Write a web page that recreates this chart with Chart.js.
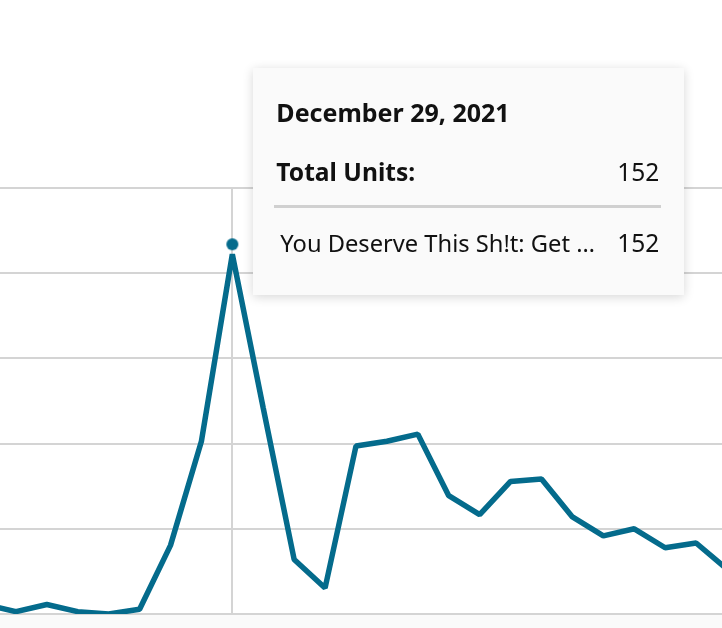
<!DOCTYPE html>
<html>
<head>
<meta charset="utf-8">
<script src="https://cdn.jsdelivr.net/npm/chart.js@4.4.1/dist/chart.umd.min.js"></script>
<style>
    html, body {
        margin: 0;
        padding: 0;
        width: 722px;
        height: 628px;
        overflow: hidden;
        background: linear-gradient(to bottom, #fff 0, #fff 615px, #fafafa 615px);
        font-family: "Noto Sans", sans-serif;
    }
    #wrap { position: absolute; left: -15px; top: 0; width: 742px; height: 628px; }
    #tip {
        position: absolute;
        top: 68px;
        width: 431px;
        height: 227px;
        background: #fafafa;
        box-shadow: 0 2px 10px rgba(0, 0, 0, 0.16);
        color: #111;
        font-size: 24px;
        line-height: 24px;
        display: none;
    }
    #tip .t { position: absolute; left: 23px; top: 32px; font-weight: bold; font-size: 25px; }
    #tip .l { position: absolute; white-space: nowrap; }
    #tip .r { position: absolute; right: 25px; font-size: 24.5px; }
    #tip .sep { position: absolute; left: 21px; right: 23px; top: 137px; height: 3px; background: #d0d0d0; }
</style>
</head>
<body>
<div id="wrap"><canvas id="lineChart"></canvas></div>
<div id="tip"></div>
<script>
var labels = [
    'December 21, 2021', 'December 22, 2021', 'December 23, 2021', 'December 24, 2021',
    'December 25, 2021', 'December 26, 2021', 'December 27, 2021', 'December 28, 2021',
    'December 29, 2021', 'December 30, 2021', 'December 31, 2021', 'January 1, 2022',
    'January 2, 2022', 'January 3, 2022', 'January 4, 2022', 'January 5, 2022',
    'January 6, 2022', 'January 7, 2022', 'January 8, 2022', 'January 9, 2022',
    'January 10, 2022', 'January 11, 2022', 'January 12, 2022', 'January 13, 2022',
    'January 14, 2022'
];
var bookTitle = 'You Deserve This Sh!t: Get …';
var units = [4, 1, 4, 1, 0, 2, 29, 73, 152, 87, 23, 11, 71, 73, 76, 50, 42, 56, 57, 41, 33, 36, 28, 30, 19];
var yTicks = [0, 36, 72, 108, 144, 180];
var hoverIndex = 8;

var teal = '#046b8c';
var gridColor = '#d4d4d4';

// hover marker sits a little above the line vertex, like the original
var marker = document.createElement('canvas');
marker.width = 14;
marker.height = 34;
var mctx = marker.getContext('2d');
mctx.fillStyle = teal;
mctx.beginPath();
mctx.arc(7, 7, 6, 0, Math.PI * 2);
mctx.fill();

// vertical hover line
var hoverLine = {
    id: 'hoverLine',
    beforeDatasetsDraw: function (chart) {
        var active = chart.getActiveElements();
        if (!active.length) return;
        var ctx = chart.ctx;
        var area = chart.chartArea;
        var x = Math.round(active[0].element.x);
        ctx.save();
        ctx.strokeStyle = gridColor;
        ctx.lineWidth = 2;
        ctx.beginPath();
        ctx.moveTo(x, area.top);
        ctx.lineTo(x, area.bottom);
        ctx.stroke();
        ctx.restore();
    }
};

function externalTip(context) {
    var tooltip = context.tooltip;
    var el = document.getElementById('tip');
    if (!tooltip.dataPoints || !tooltip.dataPoints.length) {
        el.style.display = 'none';
        return;
    }
    var total = 0;
    var rows = '';
    tooltip.dataPoints.forEach(function (p) {
        total += p.raw;
        rows += '<div class="l" style="left:27px;top:163px;font-size:23.7px">' + p.dataset.label + '</div>' +
            '<div class="r" style="top:163px">' + p.raw + '</div>';
    });
    el.innerHTML = '<div class="t">' + tooltip.dataPoints[0].label + '</div>' +
        '<div class="l" style="left:23px;top:92px;font-weight:bold;font-size:24.6px">Total Units:</div>' +
        '<div class="r" style="top:92px">' + total + '</div>' +
        '<div class="sep"></div>' + rows;
    var box = context.chart.canvas.getBoundingClientRect();
    el.style.left = (box.left + tooltip.caretX + 21) + 'px';
    el.style.display = 'block';
}

var ctxLine = document.getElementById('lineChart').getContext('2d');
var lineChart = new Chart(ctxLine, {
    type: 'line',
    data: {
        labels: labels,
        datasets: [{
            label: bookTitle,
            data: units,
            borderColor: teal,
            borderWidth: 5.5,
            borderJoinStyle: 'bevel',
            borderCapStyle: 'butt',
            tension: 0,
            fill: false,
            pointRadius: 0,
            pointHoverRadius: 6,
            pointStyle: marker,
            pointBackgroundColor: teal,
            pointHoverBorderWidth: 0
        }]
    },
    options: {
        responsive: true,
        maintainAspectRatio: false,
        animation: false,
        events: [],
        layout: {
            autoPadding: false,
            padding: { top: 188, bottom: 14, left: 0, right: 0 }
        },
        plugins: {
            legend: { display: false },
            tooltip: { enabled: false, mode: 'index', intersect: false, external: externalTip }
        },
        scales: {
            x: { display: false },
            y: {
                min: yTicks[0],
                max: yTicks[yTicks.length - 1],
                afterBuildTicks: function (scale) {
                    scale.ticks = yTicks.map(function (v) { return { value: v }; });
                },
                ticks: { display: false },
                border: { display: false },
                grid: { color: gridColor, lineWidth: 2, drawTicks: false }
            }
        }
    },
    plugins: [hoverLine]
});

var active = [{ datasetIndex: 0, index: hoverIndex }];
lineChart.setActiveElements(active);
var pt = lineChart.getDatasetMeta(0).data[hoverIndex];
lineChart.tooltip.setActiveElements(active, { x: pt.x, y: pt.y });
lineChart.update();
</script>
</body>
</html>
